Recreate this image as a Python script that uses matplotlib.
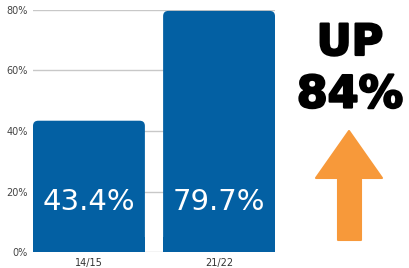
import matplotlib
matplotlib.use("Agg")
import matplotlib.pyplot as plt
import matplotlib.patheffects as pe
from matplotlib.patches import FancyBboxPatch, Rectangle, Polygon

categories = ["14/15", "21/22"]
values = [43.4, 79.7]
labels = ["43.4%", "79.7%"]
yticks = [0, 20, 40, 60, 80]
ytick_labels = ["0%", "20%", "40%", "60%", "80%"]
headline = ["UP", "84%"]

W, H = 409, 268
fig = plt.figure(figsize=(W / 100, H / 100), dpi=100)
ax = fig.add_axes([33 / W, 16 / H, 242 / W, 242 / H])

bar_color = "#0360A3"
width = 0.86
xs = list(range(len(categories)))
bars = ax.bar(xs, values, width=width, color=bar_color, zorder=2)
ax.set_xlim(-0.43, 1.43)
ax.set_ylim(0, 80)

# rounded top corners
xunit = 1.86 / 242
yunit = 80 / 242
for b in bars:
    b.set_visible(False)
    x0, w, h = b.get_x(), b.get_width(), b.get_height()
    p = FancyBboxPatch((x0, 0), w, h, boxstyle="round,pad=0,rounding_size=0.04",
                       mutation_aspect=yunit / xunit, fc=bar_color, ec="none", zorder=2)
    ax.add_patch(p)
    ax.add_patch(Rectangle((x0, 0), w, 5, fc=bar_color, ec="none", zorder=2))

for x, lab in zip(xs, labels):
    ax.text(x, 16.6, lab, ha="center", va="center", color="white",
            fontsize=21, family="DejaVu Sans", zorder=3)

ax.set_yticks(yticks)
ax.set_yticklabels(ytick_labels, fontsize=7, color="#444444", family="DejaVu Sans")
ax.set_xticks(xs)
ax.set_xticklabels(categories, fontsize=7, color="#333333", family="DejaVu Sans")
ax.tick_params(length=0, pad=4)
ax.grid(axis="y", color="#c8c8c8", linewidth=1, zorder=0)
for s in ax.spines.values():
    s.set_visible(False)

# headline text
stroke = [pe.withStroke(linewidth=1.6, foreground="black")]
fig.text(350 / W, 1 - 43 / H, headline[0], ha="center", va="center",
         fontsize=31, fontweight="bold", family="DejaVu Sans", color="black",
         path_effects=stroke)
fig.text(350 / W, 1 - 95 / H, headline[1], ha="center", va="center",
         fontsize=32, fontweight="bold", family="DejaVu Sans", color="black",
         path_effects=stroke)

# arrow
pts_px = [(349, 131), (382, 178), (361, 178), (361, 240), (338, 240), (338, 178), (316, 178)]
pts = [(x / W, 1 - y / H) for x, y in pts_px]
fig.add_artist(Polygon(pts, closed=True, transform=fig.transFigure,
                       fc="#F7993A", ec="#F7993A", joinstyle="round", lw=1.5))

fig.savefig("out.png", dpi=100)
